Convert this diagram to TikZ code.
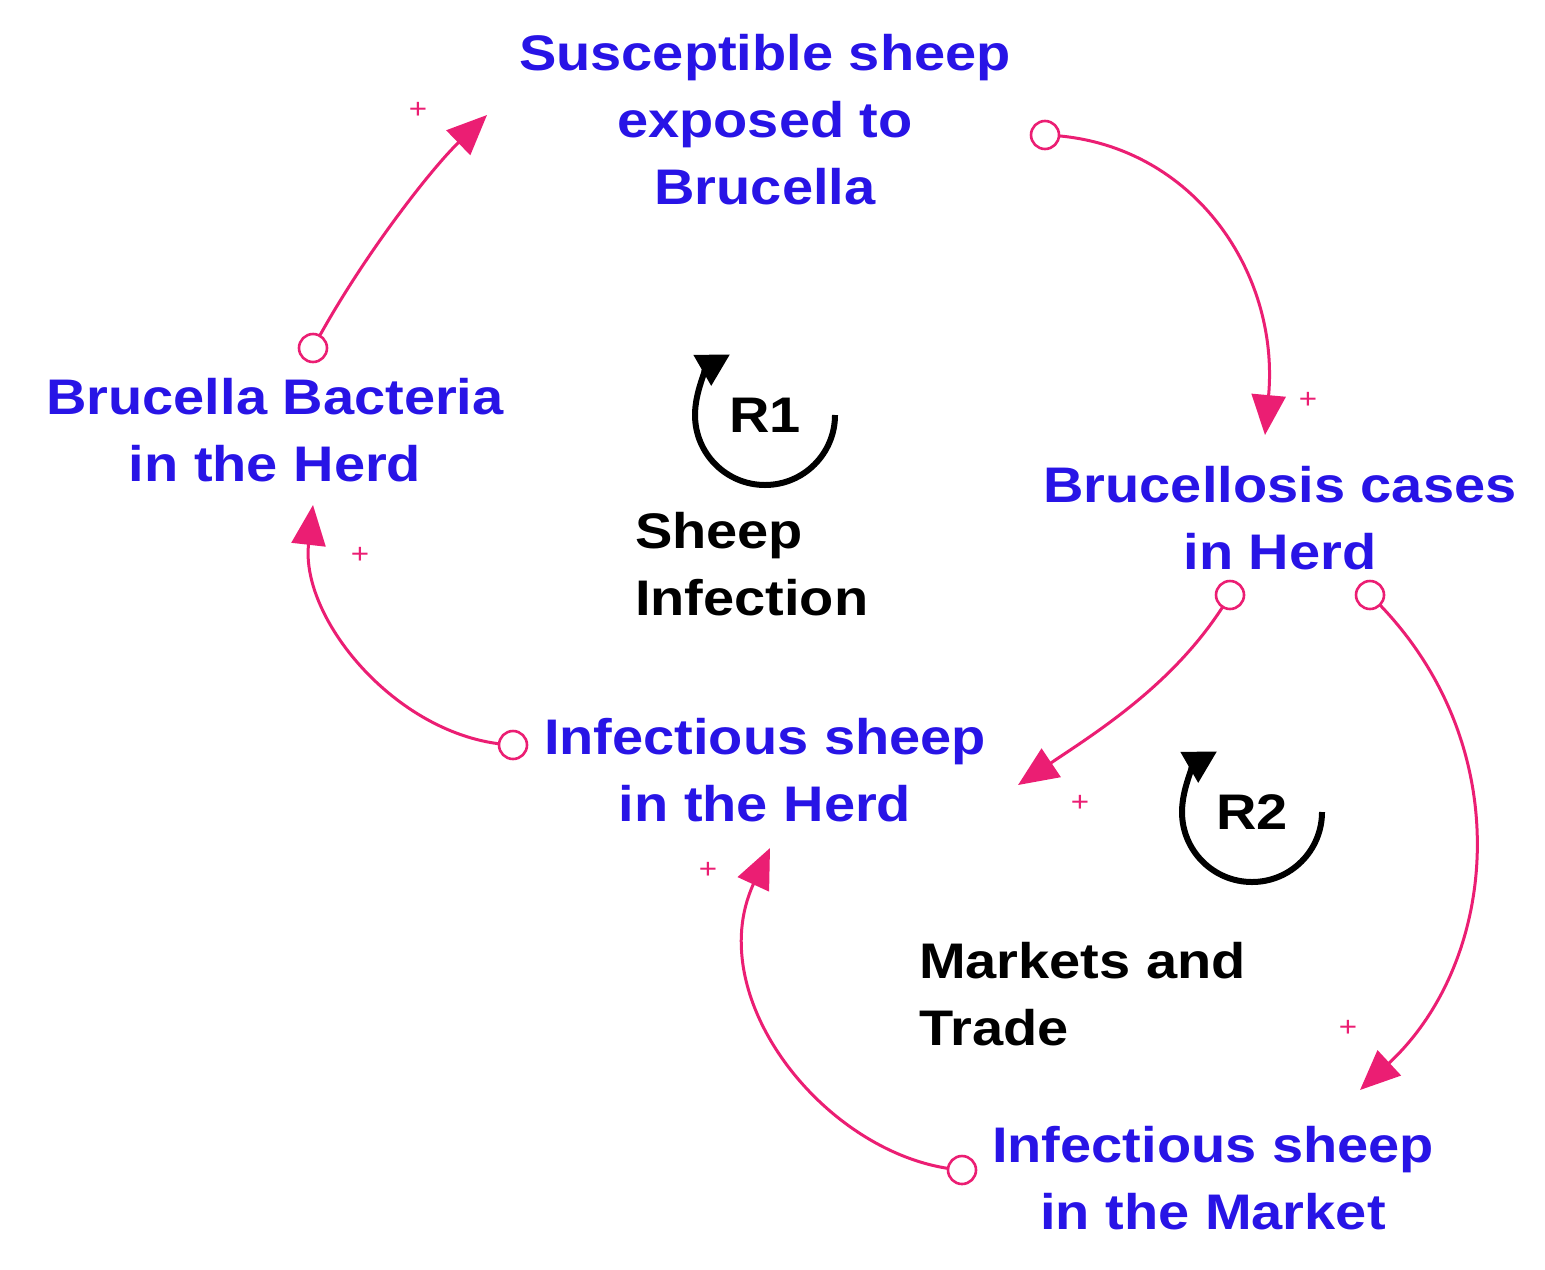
\documentclass[tikz,border=0pt]{standalone}
\usepackage{fontspec}
\setmainfont{Liberation Sans}[FakeStretch=1.12]
\usetikzlibrary{arrows.meta}
\definecolor{lk}{RGB}{235,30,115}
\definecolor{vb}{RGB}{40,20,230}
\begin{document}
\begin{tikzpicture}[x=0.5pt,y=-0.5pt,
  var/.style={text=vb,font=\fontsize{25}{33.5}\selectfont\bfseries,align=center},
  lab/.style={text=black,font=\fontsize{25}{33.5}\selectfont\bfseries,align=left,anchor=north west},
  tl/.style={circle,draw=lk,line width=1.3pt,fill=white,minimum size=14pt,inner sep=0pt},
  lnk/.style={draw=lk,line width=1.5pt,-{Triangle[length=20pt,width=17pt]}},
  pl/.style={text=lk,font=\fontsize{14}{14}\selectfont},
  loop/.style={line width=3pt,-{Triangle[length=16pt,width=17pt]}}]
\useasboundingbox (0,0) rectangle (1545,1269);
\node[var] (s) at (765,120) {Susceptible sheep\\exposed to\\Brucella};
\node[var] (b) at (275,430) {Brucella Bacteria\\in the Herd};
\node[var] (c) at (1280,518) {Brucellosis cases\\in Herd};
\node[var] (h) at (765,770) {Infectious sheep\\in the Herd};
\node[var] (m) at (1213,1178) {Infectious sheep\\in the Market};
\node[lab] (l1) at (628,505) {Sheep\\Infection};
\node[lab] (l2) at (912,935) {Markets and\\Trade};
% loops
\coordinate (r1c) at (765,415);
\node[font=\fontsize{25}{25}\selectfont\bfseries] (r1) at (r1c) {R1};
\draw[loop] ([shift={(0:70)}]r1c) arc[start angle=0,end angle=240,radius=70];
\coordinate (r2c) at (1252,812);
\node[font=\fontsize{25}{25}\selectfont\bfseries] (r2) at (r2c) {R2};
\draw[loop] ([shift={(0:70)}]r2c) arc[start angle=0,end angle=240,radius=70];
% heads
\coordinate (h1) at (487,115);
\coordinate (h2) at (1265,435);
\coordinate (h3) at (1018,785);
\coordinate (h4) at (1360,1090);
\coordinate (h5) at (770,848);
\coordinate (h6) at (313,505);
\draw[lnk] (313,348) .. controls (360,260) and (430,170) .. (h1);
\draw[lnk] (1045,135) .. controls (1190,140) and (1280,270) .. (h2);
\draw[lnk] (1230,595) .. controls (1180,680) and (1100,730) .. (h3);
\draw[lnk] (1370,595) .. controls (1520,740) and (1500,960) .. (h4);
\draw[lnk] (962,1170) .. controls (830,1160) and (700,1000) .. (h5);
\draw[lnk] (513,745) .. controls (400,740) and (300,620) .. (h6);
\node[tl] (t1) at (313,348) {};
\node[tl] (t2) at (1045,135) {};
\node[tl] (t3) at (1230,595) {};
\node[tl] (t4) at (1370,595) {};
\node[tl] (t5) at (962,1170) {};
\node[tl] (t6) at (513,745) {};
\node[pl] (p1) at (418,110) {+};
\node[pl] (p2) at (1308,400) {+};
\node[pl] (p3) at (1080,803) {+};
\node[pl] (p4) at (1348,1028) {+};
\node[pl] (p5) at (708,870) {+};
\node[pl] (p6) at (360,555) {+};
\end{tikzpicture}
\end{document}
